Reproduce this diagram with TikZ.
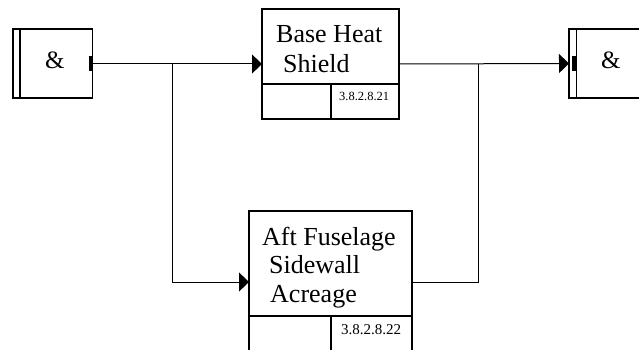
\documentclass[tikz,border=0pt]{standalone}
\usepackage{fontspec}
\setmainfont{Liberation Serif}
\usetikzlibrary{arrows.meta}
\begin{document}
\begin{tikzpicture}[x=1pt,y=-1pt,
  box/.style={draw=black, line width=1.1pt, inner sep=0pt, outer sep=0pt},
  conn/.style={draw=black, line width=1pt},
  arr/.style={conn, -{Triangle[length=10pt,width=19pt]}},
  txt/.style={anchor=base west, inner sep=0pt, font=\fontsize{26}{28}\selectfont},
  numtxt/.style={anchor=base west, inner sep=0pt},
  amp/.style={anchor=base west, inner sep=0pt, font=\fontsize{25}{28}\selectfont},
  barnode/.style={fill=black, draw=none, inner sep=0pt, outer sep=0pt, minimum width=3.5pt, minimum height=15pt}]
\clip (0,0) rectangle (639,350);
\fill[white] (0,0) rectangle (639,350);

% left & box
\node[box, minimum width=79.5pt, minimum height=69pt] (L) at (52.75,63.5) {};
\draw[box] ([xshift=7pt]L.north west) -- ([xshift=7pt]L.south west);
\node[amp] (Lamp) at (45,69) {\&};
\node[barnode, anchor=east] (Lbar) at (92.3,64) {};

% right & box
\node[box, minimum width=91pt, minimum height=69pt] (R) at (614.5,63.5) {};
\draw[box] ([xshift=7.5pt]R.north west) -- ([xshift=7.5pt]R.south west);
\node[amp] (Ramp) at (601,69) {\&};
\node[barnode, anchor=east] (Rbar) at (575.8,64) {};

% Base Heat Shield
\node[box, minimum width=137pt, minimum height=110pt] (B) at (330.5,64) {};
\draw[box] (B.west |- 0,84) -- (B.east |- 0,84);
\draw[box] (331,84) -- (331,119);
\node[txt] (B1) at (276,43) {Base Heat};
\node[txt] (B2) at (283,73) {Shield};
\node[numtxt, font=\fontsize{12.5}{14}\selectfont] (Bn) at (339,101) {3.8.2.8.21};

% Aft Fuselage Sidewall Acreage
\node[box, minimum width=163pt, minimum height=159pt] (A) at (330.5,290.5) {};
\draw[box] (A.west |- 0,316) -- (A.east |- 0,316);
\draw[box] (331,316) -- (331,370);
\node[txt] (A1) at (262,245) {Aft Fuselage};
\node[txt] (A2) at (269,273) {Sidewall};
\node[txt] (A3) at (270,302) {Acreage};
\node[numtxt, font=\fontsize{15}{17}\selectfont] (An) at (341,334) {3.8.2.8.22};

% connectors
\coordinate (j1) at (172,64);
\coordinate (j2) at (478,64);
\coordinate (Ain) at (A.west |- 0,282);
\coordinate (Aout) at (A.east |- 0,282);
\draw[arr] (Lbar.east) -- (B.west);
\draw[arr] (j1) |- (Ain);
\draw[arr] (B.east) -- (R.west);
\draw[conn] (Aout) -| (j2);
\end{tikzpicture}
\end{document}
